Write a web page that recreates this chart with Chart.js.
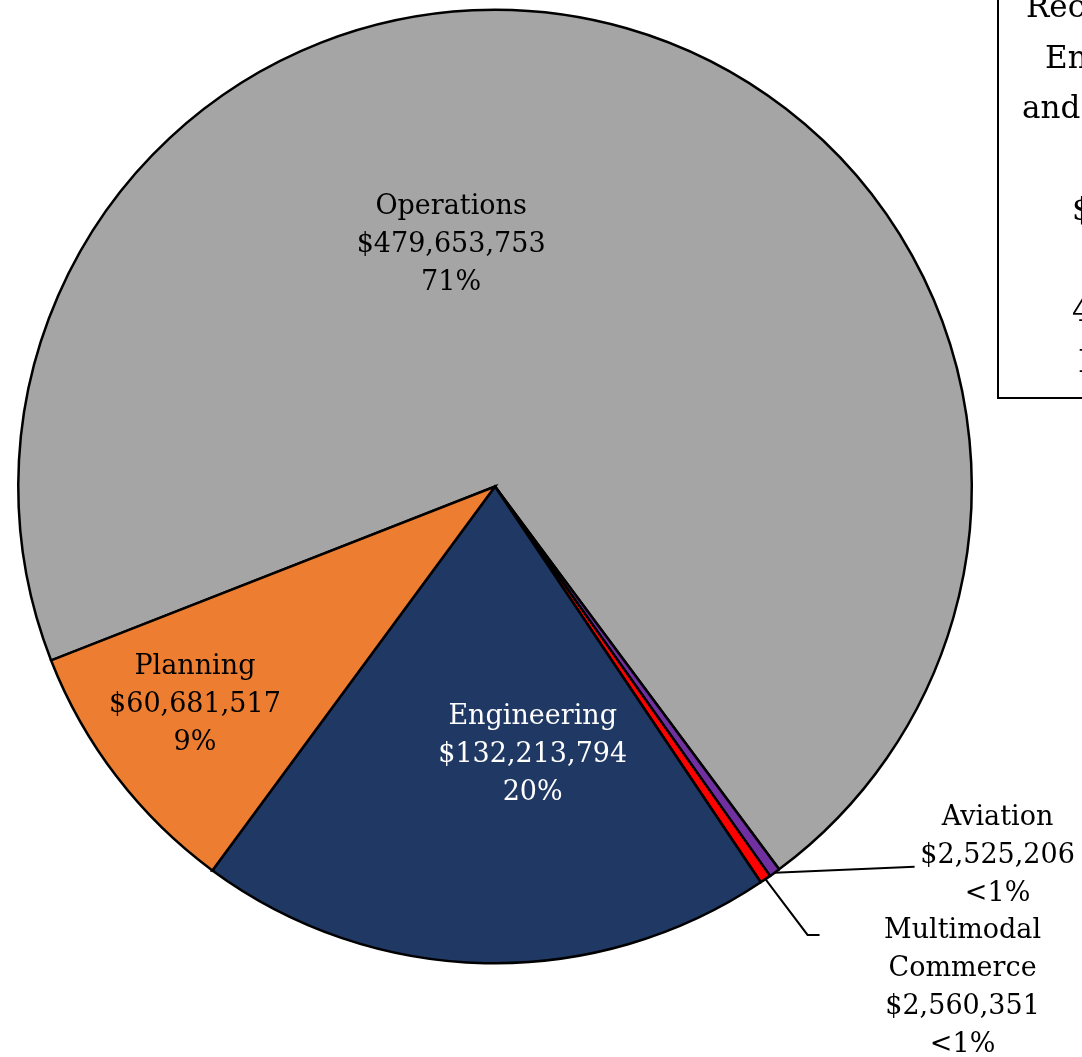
<!DOCTYPE html>
<html lang="en">
<head>
    <meta charset="UTF-8">
    <title>Costs by Division</title>
    <style>
        body {
            margin: 0;
            padding: 0;
            background-color: #ffffff;
            overflow: hidden;
        }
        #wrap {
            position: relative;
            width: 1082px;
            height: 1057px;
        }
    </style>
</head>
<body>
    <div id="wrap">
        <canvas id="pie-chart" width="1082" height="1057"></canvas>
    </div>

    <script src="https://cdn.jsdelivr.net/npm/chart.js"></script>
    <script>
        // Dados do gráfico
        const categories = [['Operations'], ['Aviation'], ['Multimodal', 'Commerce'], ['Engineering'], ['Planning']];
        const amounts = [479653753, 2525206, 2560351, 132213794, 60681517];
        const sliceColors = ['#A5A5A5', '#7030A0', '#FF0000', '#203864', '#ED7D31'];
        const textColors = ['#000000', '#000000', '#000000', '#ffffff', '#000000'];

        // texto da caixa (cortada na borda direita)
        const boxLines = ['Recommended', 'Engineering', 'and Planning', '', '$677,634,621', '', '40 Divisions', 'Included'];

        // posição dos rótulos: ângulo a partir do topo (graus) e fração do raio
        const labelSpots = [
            { angle: 349.7, r: 0.515 },
            { angle: 126.3, r: 1.308 },
            { angle: 137.0, r: 1.438 },
            { angle: 172.0, r: 0.568 },
            { angle: 233.9, r: 0.779 }
        ];

        const total = amounts.reduce((a, b) => a + b, 0);

        function labelLines(i) {
            const v = amounts[i];
            const pct = v / total * 100;
            const pctText = pct < 1 ? '<1%' : Math.round(pct) + '%';
            return categories[i].concat(['$' + v.toLocaleString('en-US'), pctText]);
        }

        const labelPlugin = {
            id: 'sliceLabels',
            afterDatasetsDraw(chart) {
                const ctx = chart.ctx;
                const meta = chart.getDatasetMeta(0);
                const lineH = 38;
                ctx.save();
                ctx.font = '27px "DejaVu Serif"';
                ctx.textAlign = 'center';
                ctx.textBaseline = 'middle';

                meta.data.forEach((arc, i) => {
                    const p = arc.getProps(['x', 'y', 'outerRadius', 'startAngle', 'endAngle'], true);
                    const spot = labelSpots[i];
                    const a = (spot.angle - 90) * Math.PI / 180;
                    const cx = p.x + Math.cos(a) * p.outerRadius * spot.r;
                    const cy = p.y + Math.sin(a) * p.outerRadius * spot.r;
                    const lines = labelLines(i);
                    const top = cy - (lines.length - 1) * lineH / 2;

                    // linhas de chamada para as fatias pequenas
                    if (spot.r > 1) {
                        const mid = (p.startAngle + p.endAngle) / 2;
                        const sx = p.x + Math.cos(mid) * p.outerRadius;
                        const sy = p.y + Math.sin(mid) * p.outerRadius;
                        ctx.strokeStyle = '#000000';
                        ctx.lineWidth = 2;
                        ctx.beginPath();
                        ctx.moveTo(sx, sy);
                        if (lines.length > 3) {
                            ctx.lineTo(cx - 155, cy - 53);
                            ctx.lineTo(cx - 143, cy - 53);
                        } else {
                            ctx.lineTo(cx - 83, cy + 11);
                        }
                        ctx.stroke();
                    }

                    ctx.fillStyle = textColors[i];
                    lines.forEach((t, k) => {
                        ctx.fillText(t, cx, top + k * lineH);
                    });
                });

                // caixa de texto no canto superior direito
                const boxX = 998;
                const boxBottom = 398;
                ctx.strokeStyle = '#000000';
                ctx.lineWidth = 2;
                ctx.strokeRect(boxX, -10, 220, boxBottom + 10);
                ctx.fillStyle = '#000000';
                ctx.font = '31px "DejaVu Serif"';
                ctx.textAlign = 'left';
                ctx.textBaseline = 'alphabetic';
                const starts = [1026, 1045, 1022, 0, 1072, 0, 1072, 1078];
                boxLines.forEach((t, k) => {
                    if (t) ctx.fillText(t, starts[k], 17 + k * 50.7);
                });
                ctx.restore();
            }
        };

        const ctx = document.getElementById('pie-chart').getContext('2d');
        const pieChart = new Chart(ctx, {
            type: 'pie',
            data: {
                labels: categories.map(c => c.join(' ')),
                datasets: [{
                    data: amounts,
                    backgroundColor: sliceColors,
                    borderColor: '#000000',
                    borderWidth: 2.5,
                    borderJoinStyle: 'miter'
                }]
            },
            options: {
                responsive: false,
                animation: false,
                rotation: 248.6,
                layout: {
                    padding: { left: 17, right: 109, top: 8, bottom: 92 }
                },
                plugins: {
                    legend: { display: false },
                    tooltip: { enabled: false },
                    title: { display: false }
                }
            },
            plugins: [labelPlugin]
        });
    </script>
</body>
</html>
